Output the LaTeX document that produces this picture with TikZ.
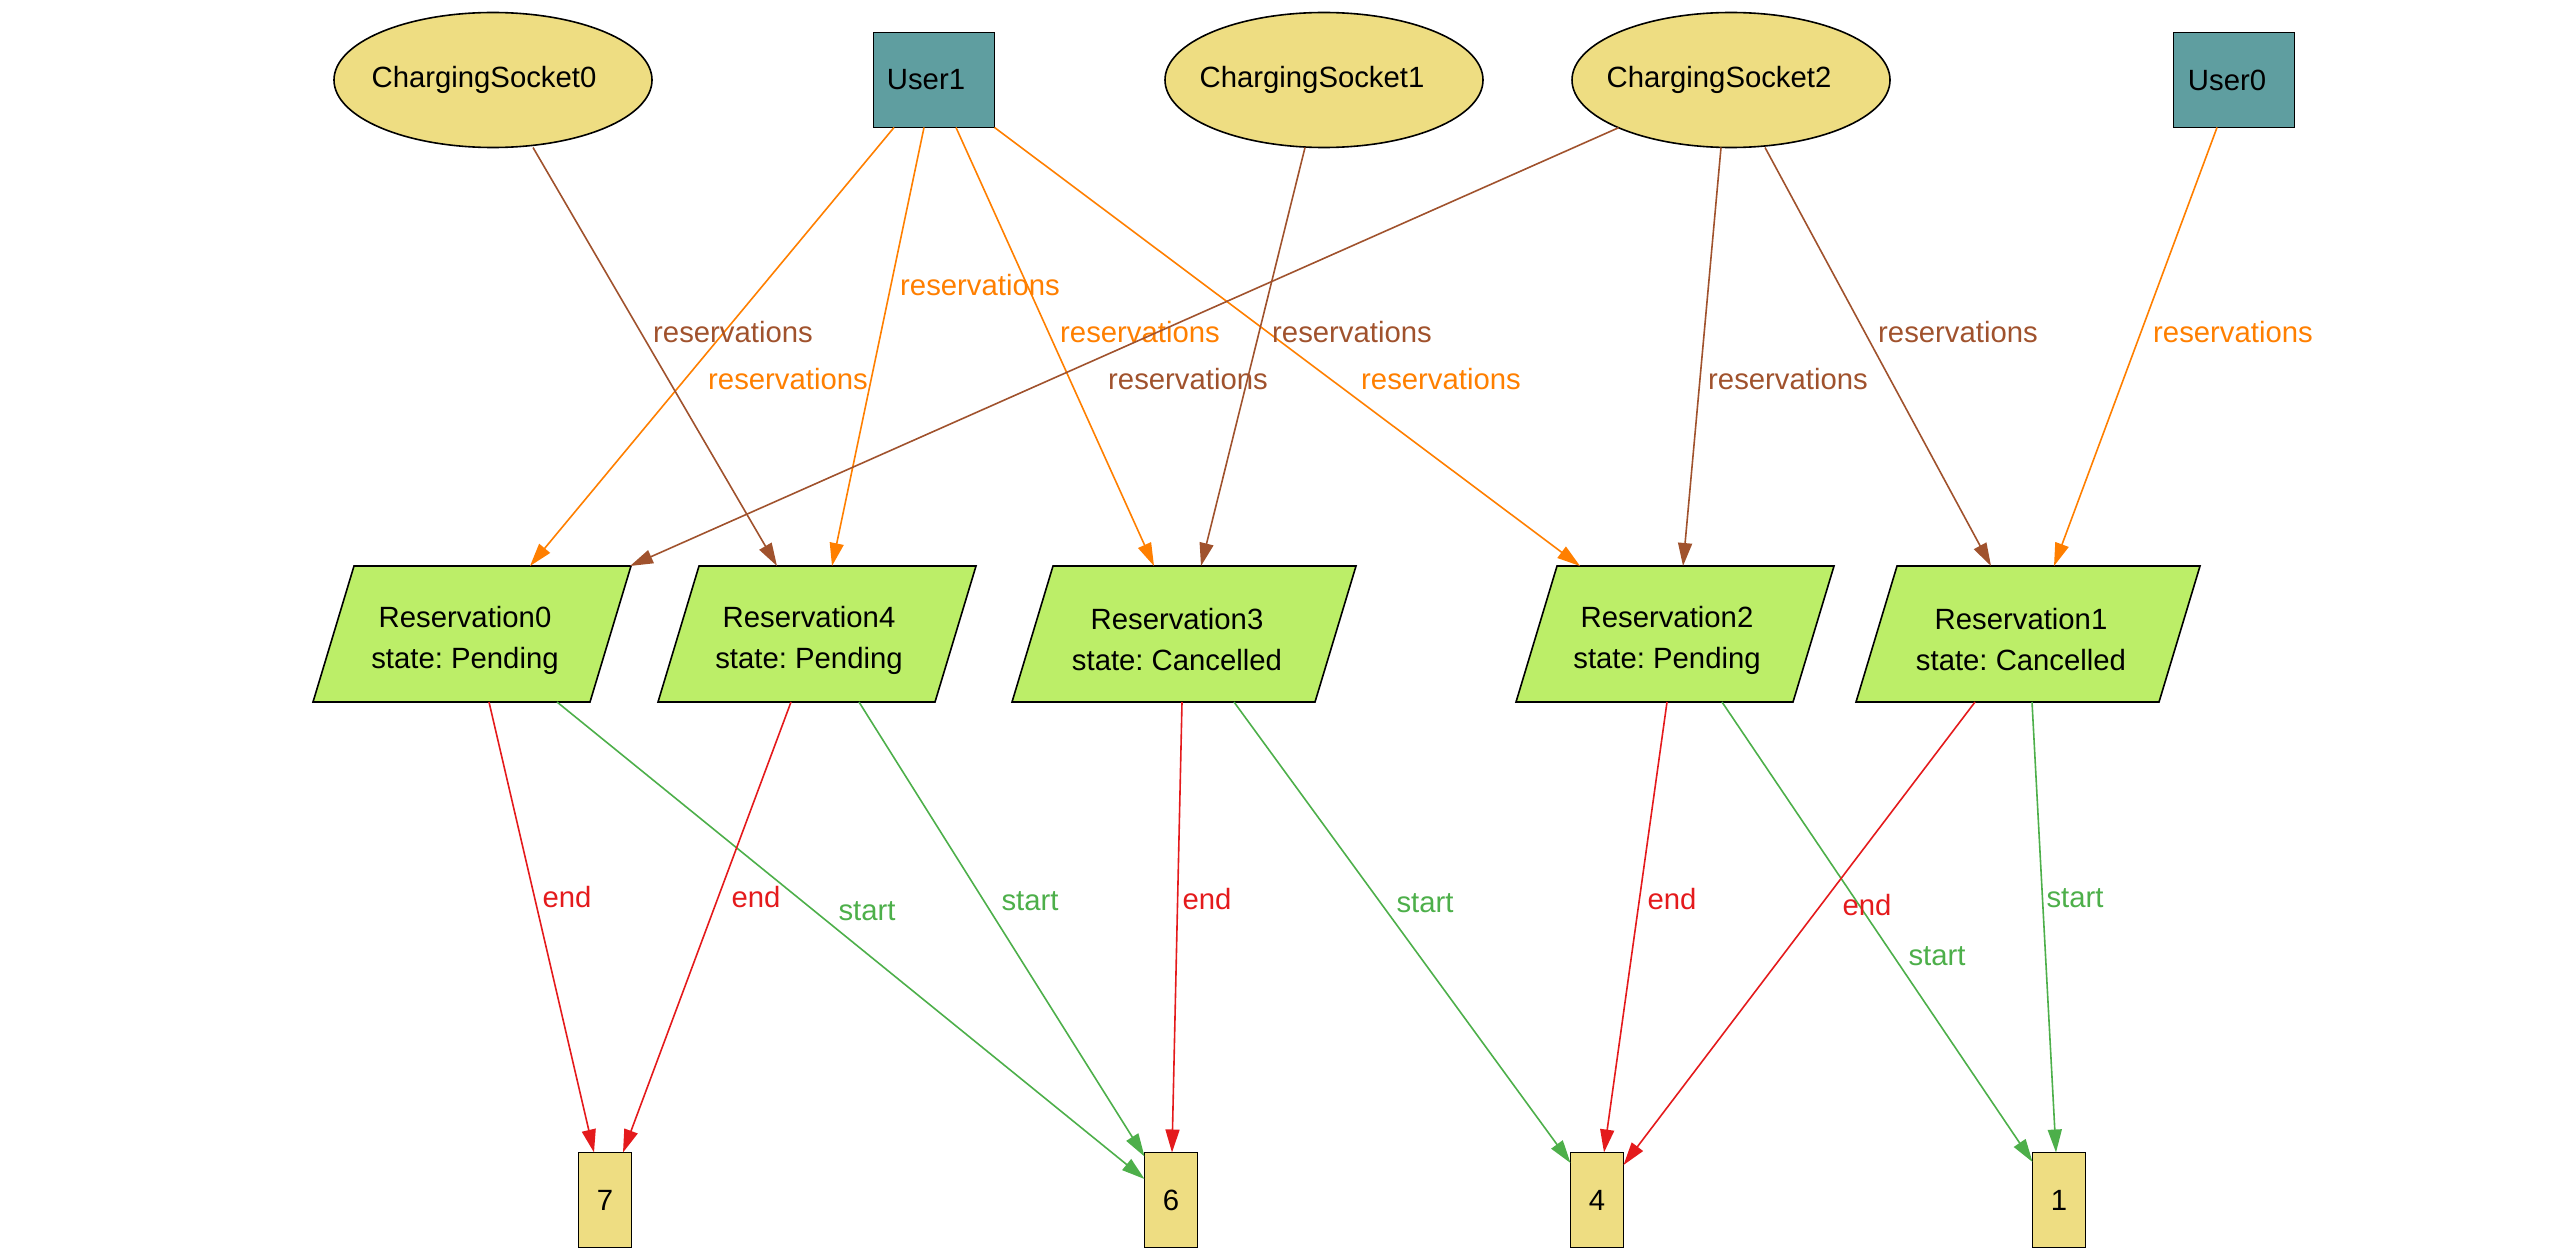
\documentclass[tikz,border=0pt]{standalone}
\usepackage{fontspec}
\setmainfont{Liberation Sans}
\usetikzlibrary{shapes.geometric,arrows.meta,backgrounds}
\definecolor{cOrange}{HTML}{FF7F00}
\definecolor{cBrown}{HTML}{A0522D}
\definecolor{cRed}{HTML}{E41A1C}
\definecolor{cGreen}{HTML}{4DAF4A}
\definecolor{cGold}{HTML}{EEDD82}
\definecolor{cCadet}{HTML}{5F9EA0}
\definecolor{cOlive}{HTML}{BCEE68}
\newcommand{\gvfont}{\fontsize{29.3}{41}\selectfont\frenchspacing}
\begin{document}
\begin{tikzpicture}[x=1pt,y=-1pt,
  every node/.style={font=\gvfont},
  socket/.style={ellipse, draw=black, line width=1.6pt, fill=cGold, minimum width=318pt, minimum height=135pt, inner sep=0pt, outer sep=0pt},
  userbox/.style={rectangle, draw=black, line width=1.6pt, fill=cCadet, minimum width=121pt, minimum height=95pt, inner sep=0pt, outer sep=0pt},
  resbox/.style={rectangle, minimum height=136pt, inner sep=0pt, outer sep=0pt},
  restext/.style={inner sep=0pt, align=center},
  numbox/.style={rectangle, draw=black, line width=1.6pt, fill=cGold, minimum width=53pt, minimum height=95pt, inner sep=0pt, outer sep=0pt},
  resshape/.style={draw=black, line width=1.6pt, fill=cOlive},
  conn/.style={line width=1.6pt, -{Triangle[length=23pt,width=14pt]}},
  oe/.style={conn, cOrange},
  be/.style={conn, cBrown},
  re/.style={conn, cRed},
  ge/.style={conn, cGreen},
  lbl/.style={inner sep=0pt}
]
\useasboundingbox (0,0) rectangle (2550,1260);

% top row
\node[socket] (cs0) at (493,80) {\hspace*{-18pt}ChargingSocket0};
\node[userbox] (u1) at (934,80) {\hspace*{-16pt}User1};
\node[socket] (cs1) at (1324,80) {\hspace*{-24pt}ChargingSocket1};
\node[socket] (cs2) at (1731,80) {\hspace*{-24pt}ChargingSocket2};
\node[userbox] (u0) at (2234,80) {\hspace*{-14pt}User0};

% reservations
\node[resbox, minimum width=318pt] (r0) at (472,634) {};
\node[resbox, minimum width=318pt] (r4) at (817,634) {};
\node[resbox, minimum width=344pt] (r3) at (1184,634) {};
\node[resbox, minimum width=318pt] (r2) at (1675,634) {};
\node[resbox, minimum width=344pt] (r1) at (2028,634) {};
\foreach \r in {r0,r4,r3,r2,r1}
  \draw[resshape] ([xshift=41pt]\r.north west) -- (\r.north east) -- ([xshift=-41pt]\r.south east) -- (\r.south west) -- cycle;
\node[restext] (t0) at ([xshift=-7pt,yshift=-6pt]r0.center) {Reservation0\\state: Pending};
\node[restext] (t4) at ([xshift=-8pt,yshift=-6pt]r4.center) {Reservation4\\state: Pending};
\node[restext] (t3) at ([xshift=-7pt,yshift=-6pt]r3.center) {Reservation3\\state: Cancelled};
\node[restext] (t2) at ([xshift=-8pt,yshift=-6pt]r2.center) {Reservation2\\state: Pending};
\node[restext] (t1) at ([xshift=-7pt,yshift=-6pt]r1.center) {Reservation1\\state: Cancelled};

% numbers
\node[numbox] (n7) at (605,1200) {7};
\node[numbox] (n6) at (1171,1200) {6};
\node[numbox] (n4) at (1597,1200) {4};
\node[numbox] (n1) at (2059,1200) {1};

% reservations edges
\draw[oe] ([xshift=-40pt]u1.south) -- ([xshift=58pt]r0.north) node[lbl] at (788,379) {reservations};
\draw[oe] ([xshift=-10pt]u1.south) -- ([xshift=15pt]r4.north) node[lbl] at (980,285) {reservations};
\draw[oe] ([xshift=22pt]u1.south) -- ([xshift=-30pt]r3.north) node[lbl] at (1140,332) {reservations};
\draw[oe] (u1.south east) -- ([xshift=-95pt]r2.north) node[lbl] at (1441,379) {reservations};
\draw[be] ([xshift=40pt]cs0.south) -- ([xshift=-40pt]r4.north) node[lbl] at (733,332) {reservations};
\draw[be] ([xshift=-19pt]cs1.south) -- ([xshift=17pt]r3.north) node[lbl] at (1352,332) {reservations};
\draw[be] (cs2.203) -- ([xshift=158pt]r0.north) node[lbl] at (1188,379) {reservations};
\draw[be] ([xshift=-10pt]cs2.south) -- ([xshift=8pt]r2.north) node[lbl] at (1788,379) {reservations};
\draw[be] ([xshift=34pt]cs2.south) -- ([xshift=-37pt]r1.north) node[lbl] at (1958,332) {reservations};
\draw[oe] ([xshift=-17pt]u0.south) -- ([xshift=26pt]r1.north) node[lbl] at (2233,332) {reservations};

% start / end edges
\draw[re] ([xshift=17pt]r0.south) -- ([xshift=-11pt]n7.north) node[lbl] at (567,897) {end};
\draw[ge] ([xshift=85pt]r0.south) -- ([yshift=21pt]n6.west) node[lbl] at (867,911) {start};
\draw[re] ([xshift=-26pt]r4.south) -- ([xshift=18pt]n7.north) node[lbl] at (756,897) {end};
\draw[ge] ([xshift=42pt]r4.south) -- ([yshift=-4pt]n6.north west) node[lbl] at (1030,901) {start};
\draw[re] ([xshift=-2pt]r3.south) -- ([xshift=1pt]n6.north) node[lbl] at (1207,899) {end};
\draw[ge] ([xshift=50pt]r3.south) -- ([yshift=37pt]n4.west) node[lbl] at (1425,903) {start};
\draw[re] ([xshift=-8pt]r2.south) -- ([xshift=7pt]n4.north) node[lbl] at (1672,899) {end};
\draw[ge] ([xshift=47pt]r2.south) -- ([yshift=38pt]n1.west) node[lbl] at (1937,956) {start};
\draw[re] ([xshift=-53pt]r1.south) -- ([yshift=35pt]n4.east) node[lbl] at (1867,905) {end};
\draw[ge] ([xshift=4pt]r1.south) -- ([xshift=-3pt]n1.north) node[lbl] at (2075,898) {start};
\end{tikzpicture}
\end{document}
